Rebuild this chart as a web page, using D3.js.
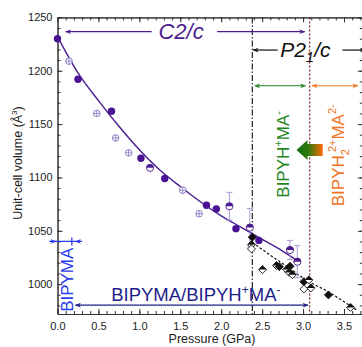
<!DOCTYPE html>
<html lang="en">
<head>
<meta charset="utf-8">
<title>Unit-cell volume vs pressure</title>
<script src="https://cdn.jsdelivr.net/npm/d3@7"></script>
<style>
    body { margin: 0; background: #fff; }
    svg text { font-family: "Liberation Sans", Arial, sans-serif; }
</style>
</head>
<body>
<div id="chart"></div>
<script>
    // tick labels
    var pressureTicks = [0, 0.5, 1, 1.5, 2, 2.5, 3, 3.5];
    var volumeTicks = [1000, 1050, 1100, 1150, 1200, 1250];

    // C2/c phase: filled circles
    var c2cFilledP = [0, 0.25, 0.66, 1.02, 1.31, 1.82, 1.94, 2.18, 2.46];
    var c2cFilledV = [1230, 1192, 1162, 1118, 1099, 1074, 1070.5, 1052, 1041];
    // C2/c phase: open crossed circles
    var c2cOpenP = [0.14, 0.48, 0.71, 0.87, 1.53, 1.73];
    var c2cOpenV = [1209, 1160, 1137, 1123, 1088, 1066];
    // C2/c phase: half filled circles (error = 0 means no bar)
    var c2cHalfP = [1.13, 2.10, 2.35, 2.84, 2.93];
    var c2cHalfV = [1109, 1073, 1053, 1032, 1021];
    var c2cHalfErr = [0, 13, 18, 9, 15];

    // P21/c phase: black symbols ('f' filled, 'h' half, 'o' open)
    var p21cP = [2.38, 2.37, 2.37, 2.505, 2.676, 2.71, 2.80, 2.84, 2.83, 2.87, 3.01, 3.07, 3.01, 3.095, 3.31, 3.58];
    var p21cV = [1044, 1037, 1033, 1013.6, 1017.4, 1016.4, 1013.6, 1016.7, 1011, 1008.9, 1002.3, 1003.9, 995.5, 996.4, 989.9, 978.2];
    var p21cType = ['f', 'h', 'o', 'h', 'h', 'f', 'h', 'f', 'h', 'h', 'f', 'h', 'o', 'h', 'f', 'h'];

    // fitted equations of state
    var fitC2cP = [0, 0.25, 0.5, 0.75, 1.0, 1.25, 1.5, 1.75, 2.0, 2.25, 2.5, 2.75, 2.95];
    var fitC2cV = [1232, 1198, 1172, 1148, 1126, 1107, 1091.5, 1077, 1064, 1053, 1042, 1031, 1021];
    var fitP21cP = [2.38, 2.63, 2.85, 3.04, 3.31, 3.6, 3.66];
    var fitP21cV = [1039, 1025.5, 1014, 1003.7, 992.7, 978.5, 975.5];

    // phase boundaries (GPa)
    var boundaries = [2.38, 3.08];

    var w = 362;
    var h = 347;
    var purple = "#4b1c8f";
    var lavender = "#8e7fc6";
    var green = "#1f861f";
    var orange = "#ef7424";
    var blue = "#2a3cf0";
    var navy = "#1d1d8a";

    var xScale = d3.scaleLinear().domain([0, 3.5]).range([57.5, 344]);
    var yScale = d3.scaleLinear().domain([972, 1250]).range([314, 17.4]);
    var xMax = 3.73;

    var svg = d3.select("#chart").append("svg")
        .attr("width", w)
        .attr("height", h);

    var defs = svg.append("defs");

    function addMarker(id, color) {
        defs.append("marker")
            .attr("id", id)
            .attr("viewBox", "0 0 10 10")
            .attr("refX", 9)
            .attr("refY", 5)
            .attr("markerWidth", 8)
            .attr("markerHeight", 6)
            .attr("markerUnits", "userSpaceOnUse")
            .attr("orient", "auto-start-reverse")
            .append("path")
            .attr("d", "M0,1 L10,5 L0,9 L3,5 z")
            .attr("fill", color);
    }
    addMarker("a-purple", purple);
    addMarker("a-black", "#111");
    addMarker("a-green", green);
    addMarker("a-orange", orange);
    addMarker("a-navy", navy);
    addMarker("a-blue", blue);

    var grad = defs.append("linearGradient").attr("id", "gArrow")
        .attr("x1", "0%").attr("x2", "100%").attr("y1", "0%").attr("y2", "0%");
    grad.append("stop").attr("offset", "0%").attr("stop-color", "#136a12");
    grad.append("stop").attr("offset", "45%").attr("stop-color", "#2f7a10");
    grad.append("stop").attr("offset", "100%").attr("stop-color", "#ff6a00");

    // axes (ticks pointing inward)
    var minorX = d3.range(0, xMax, 0.1);
    var minorY = d3.range(980, 1251, 10);

    function axisGroup(axis, tx, ty) {
        var g = svg.append("g")
            .attr("transform", "translate(" + tx + "," + ty + ")")
            .call(axis);
        g.selectAll("path, line").attr("stroke", "#333");
        g.selectAll("text").attr("fill", "#222").style("font-size", "11px");
        return g;
    }

    var xEnd = xScale(xMax);
    var xFull = xScale.copy().domain([0, xMax]).range([57.5, xEnd]);

    axisGroup(d3.axisBottom(xFull).tickValues(minorX).tickSize(-3).tickSizeOuter(0).tickFormat(""), 0, 314);
    axisGroup(d3.axisBottom(xFull).tickValues(pressureTicks).tickSize(-5).tickSizeOuter(0)
        .tickPadding(8).tickFormat(d3.format(".1f")), 0, 314);
    axisGroup(d3.axisTop(xFull).tickValues(minorX).tickSize(-3).tickSizeOuter(0).tickFormat(""), 0, 17.4);
    axisGroup(d3.axisTop(xFull).tickValues(pressureTicks).tickSize(-5).tickSizeOuter(0).tickFormat(""), 0, 17.4);

    axisGroup(d3.axisLeft(yScale).tickValues(minorY).tickSize(-3).tickSizeOuter(0).tickFormat(""), 57.5, 0);
    axisGroup(d3.axisLeft(yScale).tickValues(volumeTicks).tickSize(-5).tickSizeOuter(0).tickPadding(5)
        .tickFormat(d3.format("d")), 57.5, 0);
    axisGroup(d3.axisRight(yScale).tickValues(minorY).tickSize(-3).tickSizeOuter(0).tickFormat(""), xEnd, 0);
    axisGroup(d3.axisRight(yScale).tickValues(volumeTicks).tickSize(-5).tickSizeOuter(0).tickFormat(""), xEnd, 0);

    // axis titles
    var yt = svg.append("text")
        .attr("text-anchor", "middle")
        .attr("transform", "translate(22,163) rotate(-90)")
        .attr("fill", "#222")
        .style("font-size", "12.5px");
    yt.append("tspan").text("Unit-cell volume (Å");
    yt.append("tspan").attr("dy", -5).style("font-size", "8px").text("3");
    yt.append("tspan").attr("dy", 5).text(")");

    svg.append("text")
        .attr("x", 212)
        .attr("y", 343)
        .attr("text-anchor", "middle")
        .attr("fill", "#222")
        .style("font-size", "12.5px")
        .text("Pressure (GPa)");

    // phase boundaries
    svg.append("line")
        .attr("x1", xScale(boundaries[0])).attr("x2", xScale(boundaries[0]))
        .attr("y1", 17.4).attr("y2", 314)
        .attr("stroke", "#222").attr("stroke-width", 1.2)
        .attr("stroke-dasharray", "6,2,1.5,2");
    svg.append("line")
        .attr("x1", xScale(boundaries[1])).attr("x2", xScale(boundaries[1]))
        .attr("y1", 17.4).attr("y2", 314)
        .attr("stroke", "#7a2e2e").attr("stroke-width", 1.3)
        .attr("stroke-dasharray", "2,2");

    // fit lines
    var line = d3.line()
        .x(function (d) { return xScale(d[0]); })
        .y(function (d) { return yScale(d[1]); })
        .curve(d3.curveMonotoneX);

    svg.append("path")
        .datum(d3.zip(fitC2cP, fitC2cV))
        .attr("d", line)
        .attr("fill", "none")
        .attr("stroke", purple)
        .attr("stroke-width", 1.4);

    svg.append("path")
        .datum(d3.zip(fitP21cP, fitP21cV))
        .attr("d", line)
        .attr("fill", "none")
        .attr("stroke", "#111")
        .attr("stroke-width", 1.2)
        .attr("stroke-dasharray", "2.5,2");

    // error bars on half filled circles
    var halfData = d3.zip(c2cHalfP, c2cHalfV, c2cHalfErr).filter(function (d) { return d[2] > 0; });
    var eb = svg.append("g").attr("stroke", "#a99bd4").attr("stroke-width", 1);
    halfData.forEach(function (d) {
        var cx = xScale(d[0]);
        eb.append("line").attr("x1", cx).attr("x2", cx)
            .attr("y1", yScale(d[1] + d[2])).attr("y2", yScale(d[1] - d[2]));
        eb.append("line").attr("x1", cx - 3).attr("x2", cx + 3)
            .attr("y1", yScale(d[1] + d[2])).attr("y2", yScale(d[1] + d[2]));
        eb.append("line").attr("x1", cx - 3).attr("x2", cx + 3)
            .attr("y1", yScale(d[1] - d[2])).attr("y2", yScale(d[1] - d[2]));
    });

    // open crossed circles
    var open = svg.selectAll("g.open")
        .data(d3.zip(c2cOpenP, c2cOpenV))
        .enter().append("g")
        .attr("class", "open")
        .attr("transform", function (d) {
            return "translate(" + xScale(d[0]) + "," + yScale(d[1]) + ")";
        });
    open.append("circle").attr("r", 3.3).attr("fill", "#fff")
        .attr("stroke", lavender).attr("stroke-width", 1);
    open.append("path").attr("d", "M-3.3,0H3.3M0,-3.3V3.3")
        .attr("stroke", lavender).attr("stroke-width", 0.9);

    // half filled circles
    var half = svg.selectAll("g.half")
        .data(d3.zip(c2cHalfP, c2cHalfV))
        .enter().append("g")
        .attr("class", "half")
        .attr("transform", function (d) {
            return "translate(" + xScale(d[0]) + "," + yScale(d[1]) + ")";
        });
    half.append("circle").attr("r", 3.6).attr("fill", "#fff")
        .attr("stroke", purple).attr("stroke-width", 0.9);
    half.append("path").attr("d", "M-3.6,0A3.6,3.6 0 0 1 3.6,0Z").attr("fill", purple);

    // filled circles
    svg.selectAll("circle.filled")
        .data(d3.zip(c2cFilledP, c2cFilledV))
        .enter().append("circle")
        .attr("class", "filled")
        .attr("cx", function (d) { return xScale(d[0]); })
        .attr("cy", function (d) { return yScale(d[1]); })
        .attr("r", 3.7)
        .attr("fill", "#4a1294");

    // P21/c black diamonds
    var blk = svg.selectAll("g.blk")
        .data(d3.zip(p21cP, p21cV, p21cType))
        .enter().append("g")
        .attr("class", "blk")
        .attr("transform", function (d) {
            return "translate(" + xScale(d[0]) + "," + yScale(d[1]) + ")";
        });
    blk.append("path")
        .attr("d", "M0,-4L4,0L0,4L-4,0Z")
        .attr("fill", function (d) { return d[2] === 'f' ? "#111" : "#fff"; })
        .attr("stroke", "#111").attr("stroke-width", 0.9);
    blk.filter(function (d) { return d[2] === 'h'; })
        .append("path")
        .attr("d", "M0,-4L4,0L-4,0Z")
        .attr("fill", "#111");

    // annotations
    function hArrow(p0, p1, v, marker, color, both, width) {
        var l = svg.append("line")
            .attr("x1", xScale(p0)).attr("x2", xScale(p1))
            .attr("y1", yScale(v)).attr("y2", yScale(v))
            .attr("stroke", color).attr("stroke-width", width || 1.2)
            .attr("marker-end", "url(#" + marker + ")");
        if (both) l.attr("marker-start", "url(#" + marker + ")");
        return l;
    }

    // C2/c
    hArrow(1.15, 0.1, 1236.6, "a-purple", purple);
    hArrow(1.95, 3.02, 1236.6, "a-purple", purple);
    svg.append("text")
        .attr("x", xScale(1.51)).attr("y", yScale(1230.2))
        .attr("text-anchor", "middle")
        .attr("fill", purple)
        .style("font-size", "22px").style("font-style", "italic")
        .text("C2/c");

    // P21/c
    hArrow(2.69, 2.39, 1219.4, "a-black", "#111");
    hArrow(3.48, 3.76, 1219.4, "a-black", "#111");
    var pt = svg.append("text")
        .attr("x", xScale(2.72)).attr("y", yScale(1212.9))
        .attr("fill", "#111")
        .style("font-size", "21px").style("font-style", "italic");
    pt.append("tspan").text("P2");
    pt.append("tspan").attr("dy", 5).style("font-size", "15px").text("1");
    pt.append("tspan").attr("dy", -5).text("/c");

    // phase ranges
    hArrow(2.41, 3.03, 1185.9, "a-green", green, true, 1.1);
    hArrow(3.11, 3.67, 1185.9, "a-orange", orange, true, 1.1);

    var gt = svg.append("text")
        .attr("transform", "translate(" + xScale(2.83) + "," + yScale(1081) + ") rotate(-90)")
        .attr("fill", green)
        .style("font-size", "17px");
    gt.append("tspan").text("BIPYH");
    gt.append("tspan").attr("dy", -7).style("font-size", "11px").text("+");
    gt.append("tspan").attr("dy", 7).text("MA");
    gt.append("tspan").attr("dy", -7).style("font-size", "11px").text("-");

    var ot = svg.append("text")
        .attr("transform", "translate(" + xScale(3.505) + "," + yScale(1073) + ") rotate(-90)")
        .attr("fill", orange)
        .style("font-size", "17px");
    ot.append("tspan").text("BIPYH");
    ot.append("tspan").attr("dy", 5).style("font-size", "11px").text("2");
    ot.append("tspan").attr("dy", -13).attr("dx", -3).style("font-size", "11px").text("2+");
    ot.append("tspan").attr("dy", 8).text("MA");
    ot.append("tspan").attr("dy", -8).style("font-size", "11px").text("2-");

    // gradient arrow (transition direction)
    var tipX = xScale(2.92), tailX = xScale(3.24), ay = yScale(1125.6);
    var headX = tipX + 11;
    svg.append("path")
        .attr("d", "M" + tipX + "," + ay +
            "L" + headX + "," + (ay - 10) +
            "L" + headX + "," + (ay - 6) +
            "L" + tailX + "," + (ay - 6) +
            "L" + tailX + "," + (ay + 6) +
            "L" + headX + "," + (ay + 6) +
            "L" + headX + "," + (ay + 10) + "Z")
        .attr("fill", "url(#gArrow)");

    // BIPYMA range at ambient pressure
    var by = yScale(1040);
    svg.append("line")
        .attr("x1", xScale(-0.1)).attr("x2", xScale(0.3))
        .attr("y1", by).attr("y2", by)
        .attr("stroke", blue).attr("stroke-width", 1.3);
    svg.append("line")
        .attr("x1", xScale(-0.1)).attr("x2", xScale(-0.02))
        .attr("y1", by).attr("y2", by)
        .attr("stroke", blue).attr("stroke-width", 1)
        .attr("marker-end", "url(#a-blue)");
    svg.append("line")
        .attr("x1", xScale(0.3)).attr("x2", xScale(0.22))
        .attr("y1", by).attr("y2", by)
        .attr("stroke", blue).attr("stroke-width", 1)
        .attr("marker-end", "url(#a-blue)");
    svg.append("line")
        .attr("x1", xScale(0.175)).attr("x2", xScale(0.175))
        .attr("y1", by - 4).attr("y2", by + 4)
        .attr("stroke", blue).attr("stroke-width", 1.3);

    svg.append("text")
        .attr("transform", "translate(" + xScale(0.19) + "," + yScale(974) + ") rotate(-90)")
        .attr("fill", blue)
        .style("font-size", "17px")
        .text("BIPYMA");

    // BIPYMA/BIPYH+MA- range
    hArrow(1.0, 0.22, 980.3, "a-navy", navy, false, 1.2);
    hArrow(1.0, 3.06, 980.3, "a-navy", navy, false, 1.2);
    var nt = svg.append("text")
        .attr("x", xScale(1.69)).attr("y", yScale(984))
        .attr("text-anchor", "middle")
        .attr("fill", navy)
        .style("font-size", "18.5px");
    nt.append("tspan").text("BIPYMA/BIPYH");
    nt.append("tspan").attr("dy", -7).style("font-size", "12px").text("+");
    nt.append("tspan").attr("dy", 7).text("MA");
    nt.append("tspan").attr("dy", -7).style("font-size", "12px").text("-");
</script>
</body>
</html>
